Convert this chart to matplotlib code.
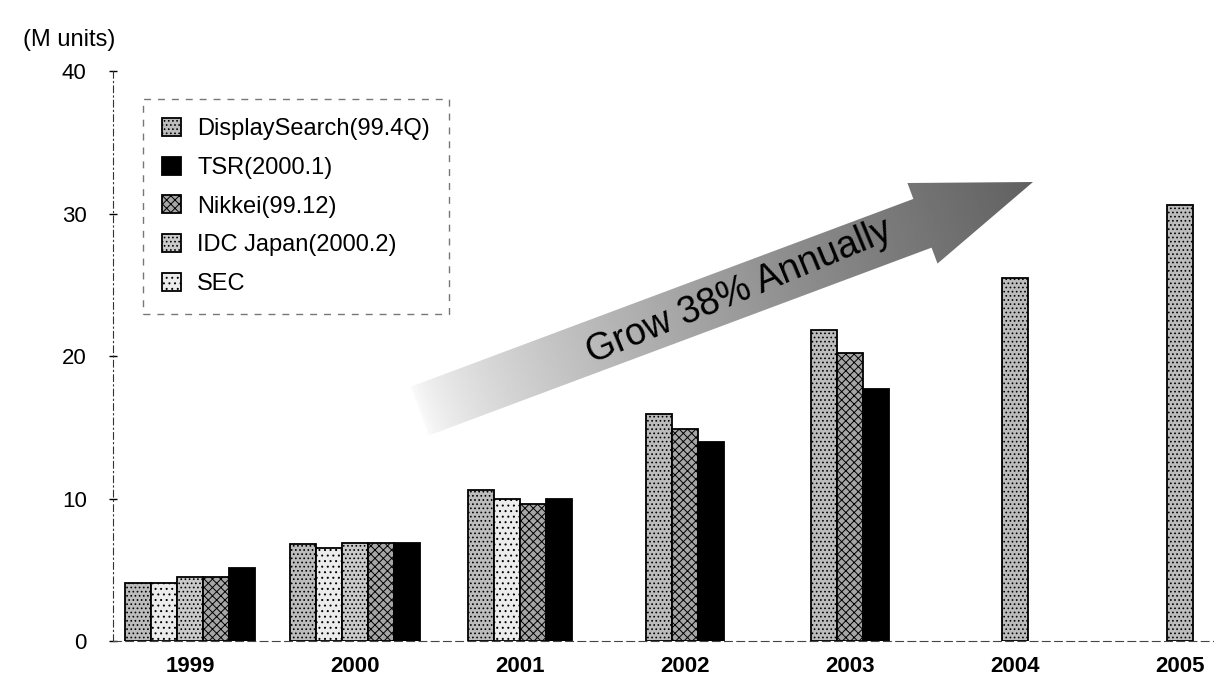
import numpy as np
import matplotlib
matplotlib.use("Agg")
import matplotlib.pyplot as plt
from matplotlib.patches import Polygon

plt.rcParams['font.family'] = ['Liberation Sans', 'DejaVu Sans']
plt.rcParams['hatch.linewidth'] = 0.7

# data (M units)
years = ['1999', '2000', '2001', '2002', '2003', '2004', '2005']
nan = np.nan
display_search = [4.1, 6.8, 10.6, 15.9, 21.8, 25.5, 30.6]
sec = [4.1, 6.5, 10.0, nan, nan, nan, nan]
idc_japan = [4.5, 6.85, nan, nan, nan, nan, nan]
nikkei = [4.5, 6.85, 9.6, 14.9, 20.2, nan, nan]
tsr = [5.1, 6.85, 10.0, 14.0, 17.7, nan, nan]

labels = ['DisplaySearch(99.4Q)', 'SEC', 'IDC Japan(2000.2)', 'Nikkei(99.12)', 'TSR(2000.1)']
series = [display_search, sec, idc_japan, nikkei, tsr]
legend_order = ['DisplaySearch(99.4Q)', 'TSR(2000.1)', 'Nikkei(99.12)', 'IDC Japan(2000.2)', 'SEC']

styles = {
    'DisplaySearch(99.4Q)': dict(facecolor='#bcbcbc', hatch='....'),
    'SEC': dict(facecolor='#ececec', hatch='...'),
    'IDC Japan(2000.2)': dict(facecolor='#cacaca', hatch='....'),
    'Nikkei(99.12)': dict(facecolor='#a6a6a6', hatch='xxxx'),
    'TSR(2000.1)': dict(facecolor='black', hatch=None),
}

fig = plt.figure(figsize=(12.14, 6.81), dpi=100)
ax = fig.add_axes([0.0931, 0.0587, 0.9069, 0.837])

width = 0.158
vals = np.array(series, dtype=float)
xpos = np.full(vals.shape, nan)
for i in range(len(years)):
    present = [j for j in range(len(series)) if not np.isnan(vals[j, i])]
    k = len(present)
    for n, j in enumerate(present):
        xpos[j, i] = i + (n - (k - 1) / 2) * width

handles = {}
for j, lab in enumerate(labels):
    mask = ~np.isnan(vals[j])
    b = ax.bar(xpos[j][mask], vals[j][mask], width=width, edgecolor='black',
               linewidth=1.3, label=lab, **styles[lab])
    handles[lab] = b

ax.set_xlim(-0.467, 6.206)
ax.set_ylim(0, 40)
ax.set_yticks([0, 10, 20, 30, 40])
ax.set_xticks(range(len(years)))
ax.set_xticklabels(years, fontsize=16, fontweight='bold')
ax.tick_params(axis='y', labelsize=16, direction='inout', length=6, width=1, pad=16)
ax.tick_params(axis='x', length=0, pad=11)

for s in ['top', 'right']:
    ax.spines[s].set_visible(False)
ax.spines['left'].set_linestyle((0, (6, 3, 1, 3)))
ax.spines['left'].set_color('#333333')
ax.spines['bottom'].set_linestyle((0, (7, 4)))
ax.spines['bottom'].set_color('#444444')

fig.text(0.019, 1 - 40 / 681, '(M units)', fontsize=17, va='center', ha='left')

leg = ax.legend([handles[l] for l in legend_order], legend_order,
                loc='upper left', bbox_to_anchor=(143 / 1214, 1 - 99 / 681),
                bbox_transform=fig.transFigure, borderaxespad=0,
                fontsize=17, fancybox=False, handlelength=0.8, handleheight=0.8,
                handletextpad=0.7, labelspacing=0.7, borderpad=0.8)
frame = leg.get_frame()
frame.set_linestyle((0, (5, 5)))
frame.set_edgecolor('#555555')
frame.set_linewidth(1)

# growth arrow, drawn on a pixel overlay
ov = fig.add_axes([0, 0, 1, 1], facecolor='none')
ov.set_xlim(0, 1214)
ov.set_ylim(681, 0)
ov.axis('off')

tail = np.array([420.0, 411.0])
tip = np.array([1033.0, 182.0])
u = (tip - tail) / np.linalg.norm(tip - tail)
nrm = np.array([-u[1], u[0]])
sw, hw, hl = 26, 43, 118
base = tip - hl * u
pts = [tail + sw * nrm, base + sw * nrm, base + hw * nrm, tip,
       base - hw * nrm, base - sw * nrm, tail - sw * nrm]
poly = Polygon(pts, closed=True, facecolor='none', edgecolor='none')
ov.add_patch(poly)

gx, gy = np.meshgrid(np.linspace(380, 1060, 400), np.linspace(150, 470, 200))
t = ((gx - tail[0]) * u[0] + (gy - tail[1]) * u[1]) / np.linalg.norm(tip - tail)
t = np.clip(t, 0, 1)
shade = 0.98 - 0.6 * t ** 0.7
im = ov.imshow(shade, extent=(380, 1060, 470, 150), cmap='gray', vmin=0, vmax=1,
               aspect='auto', interpolation='bilinear')
im.set_clip_path(poly)

angle = np.degrees(np.arctan2(-u[1], u[0]))
mid = tail + 0.52 * np.linalg.norm(tip - tail) * u
ov.text(mid[0], mid[1], 'Grow 38% Annually', fontsize=27, rotation=angle + 2,
        rotation_mode='anchor', ha='center', va='center', color='black')

fig.savefig('out.png', dpi=100)
